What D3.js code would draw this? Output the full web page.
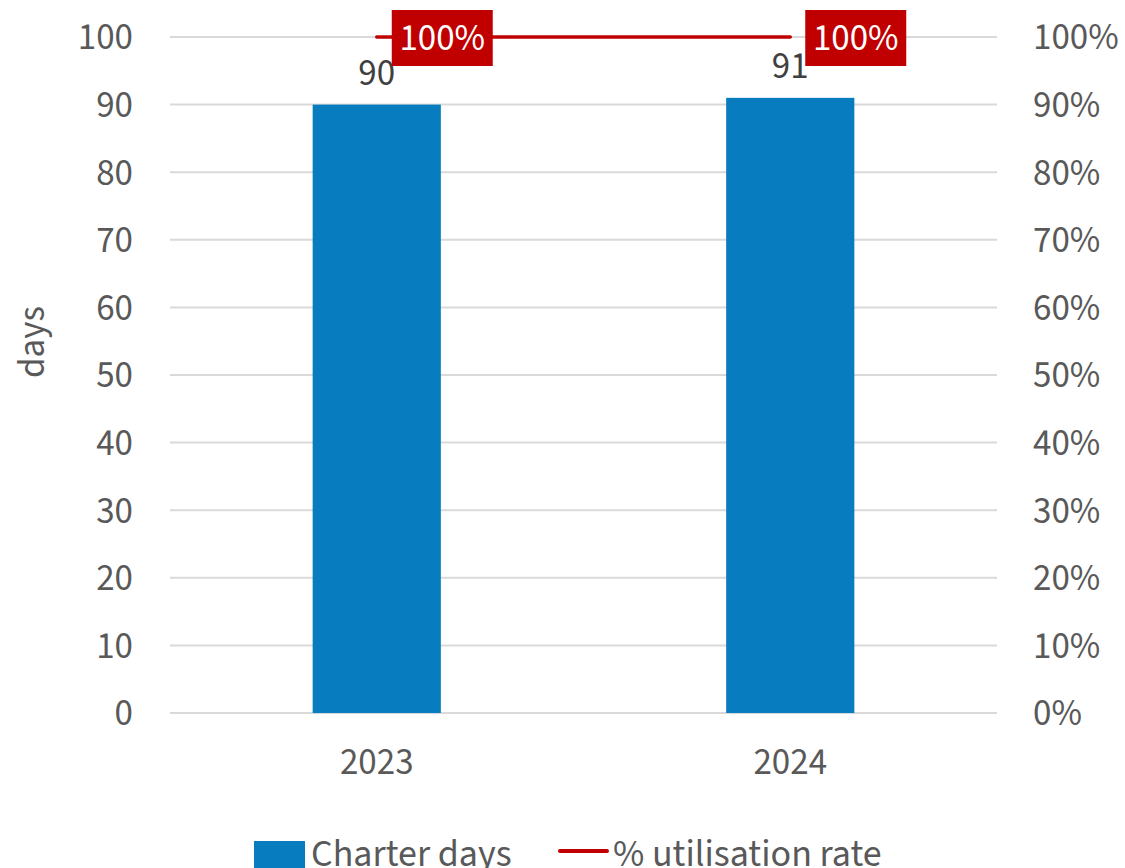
<!DOCTYPE html>
<html><head><meta charset="utf-8">
<script src="https://cdn.jsdelivr.net/npm/d3@7"></script>
<style>
body{margin:0;background:#fff;}
text{font-family:"Source Sans Pro","Source Sans 3","Liberation Sans Narrow","Noto Sans",sans-serif;}
</style></head>
<body><svg id="c" width="1125" height="868"></svg>
<script>
const categories = ["2023","2024"];
const charterDays = [90, 91];
const utilisation = [1.0, 1.0];
const leftTicks = [0,10,20,30,40,50,60,70,80,90,100];
const rightTicks = [0,0.1,0.2,0.3,0.4,0.5,0.6,0.7,0.8,0.9,1.0];

const svg = d3.select("#c");
const L = 170, R = 997, T = 37, B = 713;
const x = d3.scaleBand().domain(categories).range([L,R]).paddingInner(0.69).paddingOuter(0.345);
const y = d3.scaleLinear().domain([0,100]).range([B,T]);
const y2 = d3.scaleLinear().domain([0,1]).range([B,T]);
const fs = 37;
const gray = "#595959";

svg.append("g").selectAll("line").data(leftTicks).join("line")
  .attr("x1",L).attr("x2",R).attr("y1",d=>y(d)).attr("y2",d=>y(d))
  .attr("stroke","#d9d9d9").attr("stroke-width",2);

const ga = svg.append("g").attr("transform",`translate(${L},0)`)
  .call(d3.axisLeft(y).tickValues(leftTicks).tickSize(0).tickPadding(37));
ga.select(".domain").remove();
ga.selectAll("text").attr("font-size",fs).attr("fill",gray).style("font-family",null);

const gr = svg.append("g").attr("transform",`translate(${R},0)`)
  .call(d3.axisRight(y2).tickValues(rightTicks).tickFormat(d3.format(".0%")).tickSize(0).tickPadding(36));
gr.select(".domain").remove();
gr.selectAll("text").attr("font-size",fs).attr("fill",gray).style("font-family",null);

const gx = svg.append("g").attr("transform",`translate(0,${B})`)
  .call(d3.axisBottom(x).tickSize(0).tickPadding(35));
gx.select(".domain").remove();
gx.selectAll("text").attr("font-size",fs).attr("fill",gray).style("font-family",null);

svg.append("g").selectAll("rect").data(charterDays).join("rect")
  .attr("x",(d,i)=>x(categories[i])).attr("width",x.bandwidth())
  .attr("y",d=>y(d)).attr("height",d=>B-y(d)).attr("fill","#077DC0");

svg.append("g").selectAll("text").data(charterDays).join("text")
  .attr("x",(d,i)=>x(categories[i])+x.bandwidth()/2).attr("y",d=>y(d)-20)
  .attr("text-anchor","middle").attr("font-size",fs).attr("fill","#404040").text(d=>d);

const cx = c => x(c)+x.bandwidth()/2;
const line = d3.line().x((d,i)=>cx(categories[i])).y(d=>y2(d));
svg.append("path").datum(utilisation).attr("d",line)
  .attr("fill","none").attr("stroke","#C00000").attr("stroke-width",3.5).attr("stroke-linecap","round");

const lg = svg.append("g").selectAll("g").data(utilisation).join("g")
  .attr("transform",(d,i)=>`translate(${cx(categories[i])+15},${y2(d)-27})`);
lg.append("rect").attr("width",101).attr("height",56).attr("fill","#C00000");
lg.append("text").attr("x",50.5).attr("y",40).attr("text-anchor","middle")
  .attr("font-size",fs).attr("fill","#fff").text(d=>d3.format(".0%")(d));

svg.append("text").attr("transform","translate(44,342) rotate(-90)")
  .attr("text-anchor","middle").attr("font-size",fs).attr("fill",gray).text("days");

svg.append("rect").attr("x",254).attr("y",841).attr("width",51).attr("height",27).attr("fill","#077DC0");
svg.append("text").attr("x",311).attr("y",866).attr("font-size",38).attr("fill",gray).text("Charter days");
svg.append("line").attr("x1",560).attr("x2",607).attr("y1",851).attr("y2",851)
  .attr("stroke","#C00000").attr("stroke-width",4).attr("stroke-linecap","round");
svg.append("text").attr("x",613).attr("y",866).attr("font-size",38).attr("fill",gray).text("% utilisation rate");
</script></body></html>
